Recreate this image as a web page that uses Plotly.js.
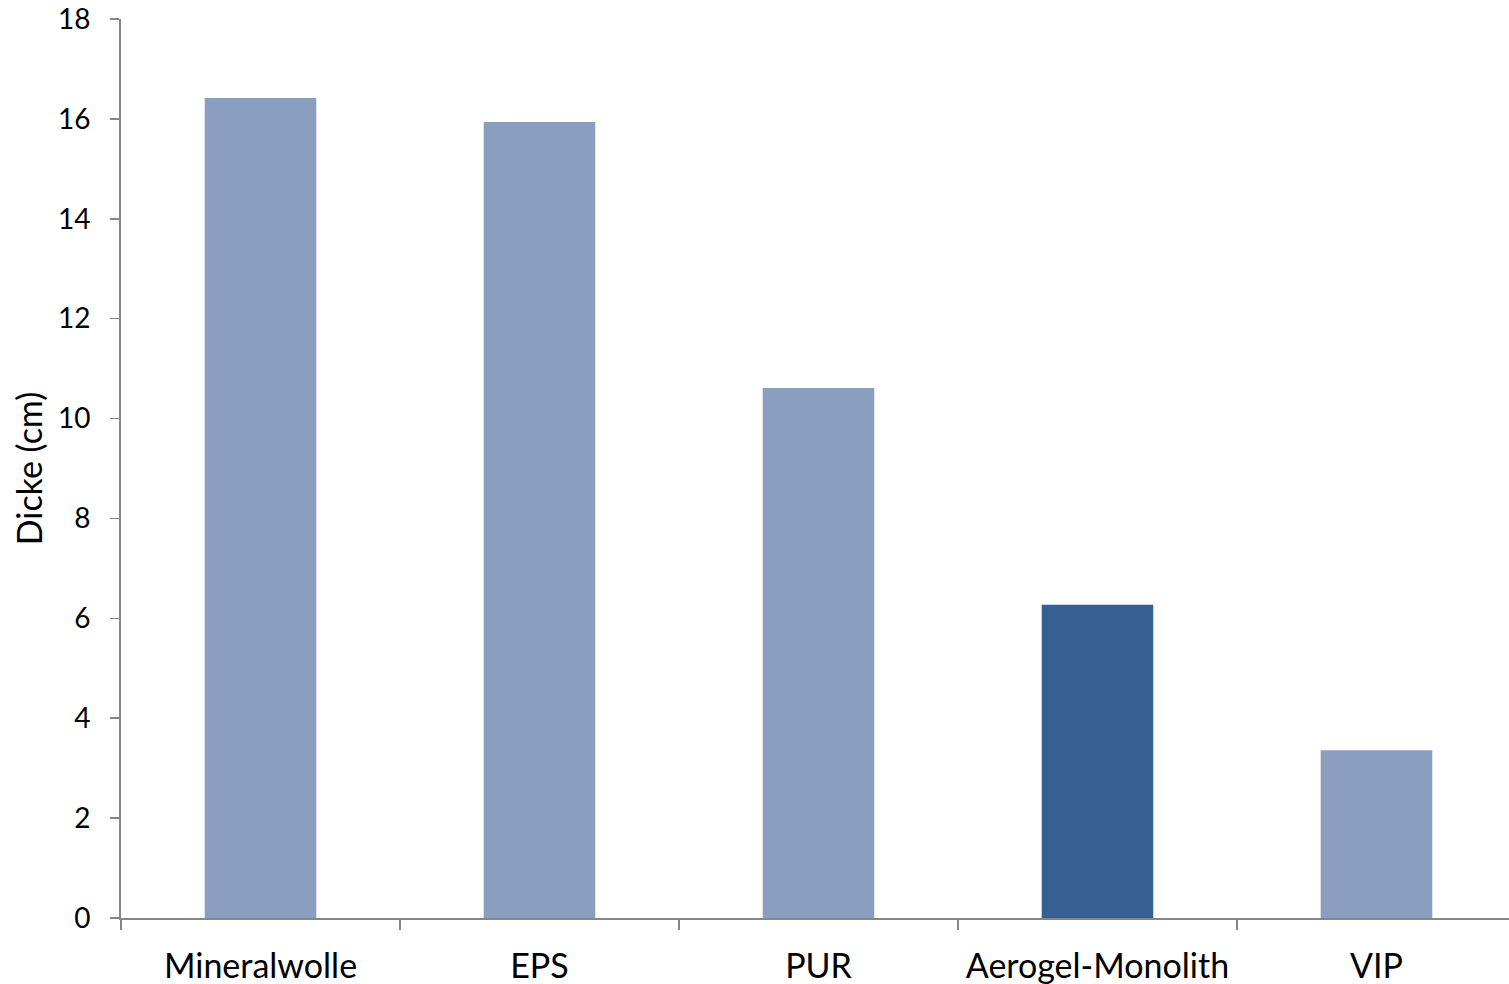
<!DOCTYPE html>
<html>
<head>
<meta charset="utf-8">
<script src="https://cdn.plot.ly/plotly-3.0.1.min.js"></script>
<style>html,body{margin:0;padding:0;background:#fff;}#chart{width:1509px;height:984px;}</style>
</head>
<body>
<div id="chart"></div>
<script>
const categories = ["Mineralwolle", "EPS", "PUR", "Aerogel-Monolith", "VIP"];
const thickness = [16.42, 15.94, 10.61, 6.27, 3.36];
const barColors = ["#8A9FBF", "#8A9FBF", "#8A9FBF", "#366092", "#8A9FBF"];
const yTicks = [0, 2, 4, 6, 8, 10, 12, 14, 16, 18];

const trace = {
  type: "bar",
  x: categories,
  y: thickness,
  marker: {color: barColors, line: {width: 0}},
  hoverinfo: "x+y"
};

const fontFam = "Lato, 'Open Sans', sans-serif";
const layout = {
  width: 1509,
  height: 984,
  margin: {l: 121, r: 0, t: 19, b: 66},
  paper_bgcolor: "#ffffff",
  plot_bgcolor: "#ffffff",
  showlegend: false,
  bargap: 0.6,
  font: {family: fontFam, color: "#000000", size: 26},
  xaxis: {
    type: "category",
    range: [-0.5, 4.475],
    tickson: "boundaries",
    ticks: "outside",
    ticklen: 10,
    tickwidth: 1.5,
    tickcolor: "#868686",
    showline: true,
    linecolor: "#868686",
    linewidth: 2,
    showgrid: false,
    zeroline: false,
    ticklabelstandoff: 17,
    tickfont: {family: fontFam, size: 34, color: "#000"}
  },
  yaxis: {
    range: [0, 18],
    tickvals: yTicks,
    ticks: "outside",
    ticklen: 9,
    tickwidth: 1.5,
    tickcolor: "#868686",
    showline: true,
    linecolor: "#868686",
    linewidth: 2,
    showgrid: false,
    zeroline: false,
    ticklabelstandoff: 14,
    tickfont: {family: fontFam, size: 28, color: "#000"},
    title: {text: "Dicke (cm)", font: {family: fontFam, size: 34, color: "#000"}, standoff: 5}
  }
};

Plotly.newPlot("chart", [trace], layout, {staticPlot: true, displayModeBar: false});
</script>
</body>
</html>
